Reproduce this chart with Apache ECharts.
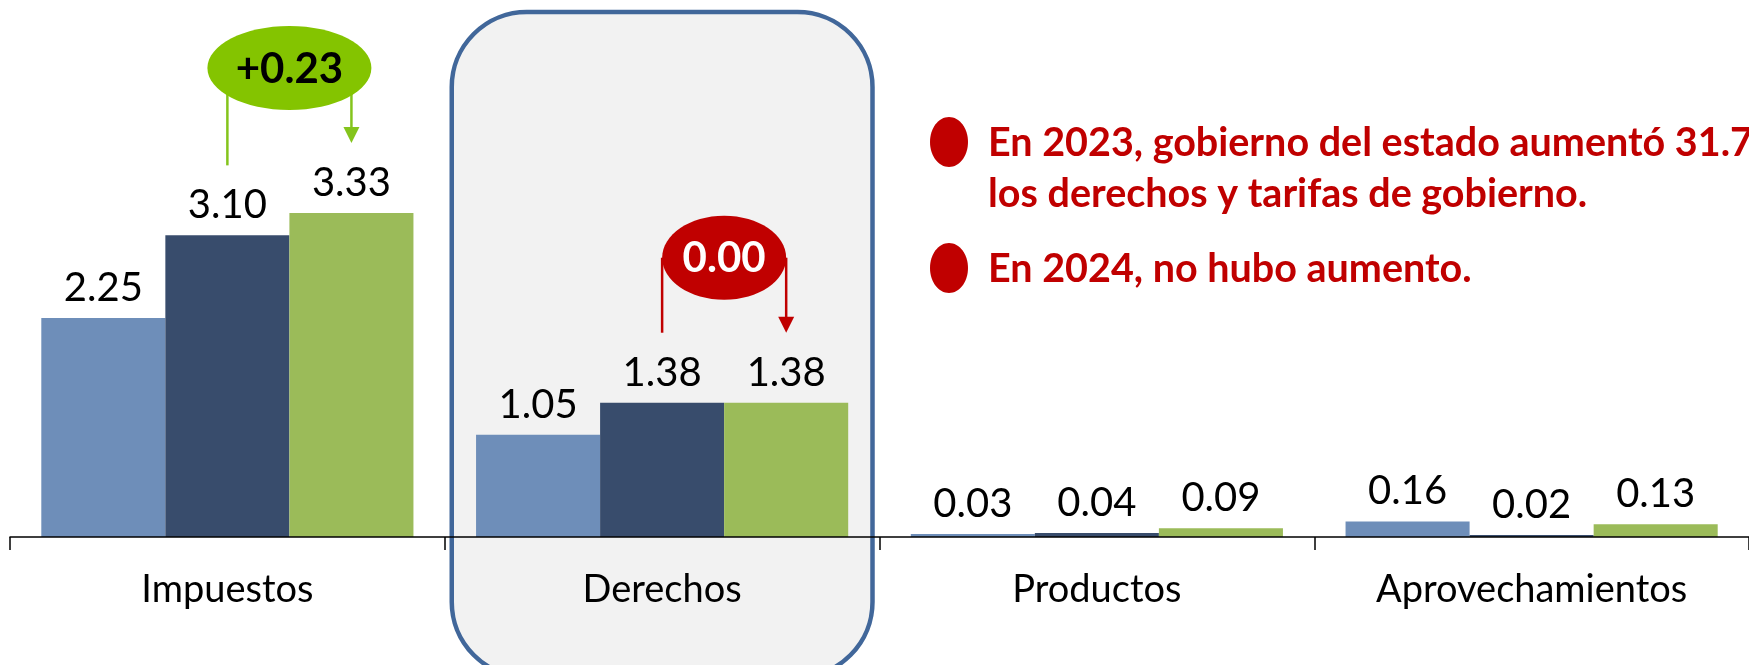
<!DOCTYPE html>
<html>
<head>
<meta charset="utf-8">
<script src="https://cdn.jsdelivr.net/npm/echarts@6/dist/echarts.min.js"></script>
<style>
html,body{margin:0;padding:0;background:#fff;}
#chart{width:1749px;height:665px;}
</style>
</head>
<body>
<div id="chart"></div>
<script>
// ---- data ----
const categories = ['Impuestos', 'Derechos', 'Productos', 'Aprovechamientos'];
const serieA = [2.25, 1.05, 0.03, 0.16];
const serieB = [3.10, 1.38, 0.04, 0.02];
const serieC = [3.33, 1.38, 0.09, 0.13];
const annotatedCategories = [0, 1];           // categories with change bubble (B -> C)
const highlightedCategory = 1;                // framed category
const notes = [
  'En 2023, gobierno del estado aumentó 31.7%',
  'los derechos y tarifas de gobierno.',
  'En 2024, no hubo aumento.'
];

// ---- styles ----
const COLORS = ['#6E8EB9', '#384C6C', '#9BBB59'];
const GAP = 0.144;
const bubbleStyles = [
  { fill: '#84C400', line: '#84C41C', text: '#000000', rx: 82, ry: 42 },
  { fill: '#C00000', line: '#C00000', text: '#FFFFFF', rx: 62, ry: 42 }
];

const chart = echarts.init(document.getElementById('chart'), null, { renderer: 'canvas' });

function mkSeries(data, i) {
  return {
    type: 'bar',
    data: data,
    barGap: '0%',
    barCategoryGap: (GAP * 100) + '%',
    itemStyle: { color: COLORS[i] },
    z: 2,
    label: {
      show: true,
      position: 'top',
      distance: 10,
      formatter: p => p.value.toFixed(2),
      fontFamily: 'Lato',
      fontSize: 40,
      color: '#000'
    }
  };
}

chart.setOption({
  animation: false,
  grid: { left: 10, width: 1743, top: 50.5, bottom: 128, containLabel: false },
  xAxis: {
    type: 'category',
    data: categories,
    z: 3,
    axisLine: { lineStyle: { color: '#000', width: 1.5 } },
    axisTick: { show: true, length: 13, lineStyle: { color: '#000', width: 1.5 } },
    axisLabel: { fontFamily: 'Lato', fontSize: 38, color: '#000', margin: 34, interval: 0 }
  },
  yAxis: { type: 'value', min: 0, max: 5, show: false, splitLine: { show: false } },
  series: [mkSeries(serieA, 0), mkSeries(serieB, 1), mkSeries(serieC, 2)]
});

function buildGraphics() {
  const cx = i => chart.convertToPixel({ xAxisIndex: 0 }, i);
  const py = v => chart.convertToPixel({ yAxisIndex: 0 }, v);
  const band = cx(1) - cx(0);
  const bw = band * (1 - GAP) / 3;
  const barCenter = (cat, s) => cx(cat) + (s - 1) * bw;
  const els = [];

  // highlighted frame
  const hc = cx(highlightedCategory);
  els.push({
    type: 'rect', z: -10,
    shape: { x: hc - band / 2 + 7, y: 12, width: band - 14, height: 665, r: 75 },
    style: { fill: '#F2F2F2', stroke: '#41679A', lineWidth: 4.5 }
  });

  // change bubbles
  annotatedCategories.forEach((cat, k) => {
    const st = bubbleStyles[k];
    const x1 = barCenter(cat, 1), x2 = barCenter(cat, 2);
    const t1 = py(serieB[cat]), t2 = py(serieC[cat]);
    const ecx = (x1 + x2) / 2;
    const ecy = Math.min(t1, t2) - 145;
    const y1end = t1 - 70, y2end = t2 - 70;
    const d = serieC[cat] - serieB[cat];
    const txt = (d > 0.0001 ? '+' : '') + d.toFixed(2);
    els.push({ type: 'line', z: 10, shape: { x1: x1, y1: ecy, x2: x1, y2: y1end }, style: { stroke: st.line, lineWidth: 2.5 } });
    els.push({ type: 'line', z: 10, shape: { x1: x2, y1: ecy, x2: x2, y2: y2end - 14 }, style: { stroke: st.line, lineWidth: 2.5 } });
    els.push({ type: 'polygon', z: 10, shape: { points: [[x2 - 8, y2end - 16], [x2 + 8, y2end - 16], [x2, y2end]] }, style: { fill: st.line } });
    els.push({ type: 'ellipse', z: 11, shape: { cx: ecx, cy: ecy, rx: st.rx, ry: st.ry }, style: { fill: st.fill } });
    els.push({ type: 'text', z: 12, style: { x: ecx, y: ecy + 1, text: txt, fill: st.text, font: 'bold 42px Lato', align: 'center', verticalAlign: 'middle' } });
  });

  // notes
  const noteY = [142, 193, 268];
  const bulletFor = [true, false, true];
  notes.forEach((t, i) => {
    if (bulletFor[i]) {
      els.push({ type: 'ellipse', z: 10, shape: { cx: 949, cy: noteY[i], rx: 19, ry: 25 }, style: { fill: '#C00000' } });
    }
    els.push({ type: 'text', z: 10, style: { x: 988, y: noteY[i] + 1, text: t, fill: '#C00000', font: 'bold 39.5px Lato', align: 'left', verticalAlign: 'middle' } });
  });

  chart.setOption({ graphic: { elements: els } });
}
buildGraphics();
</script>
</body>
</html>
